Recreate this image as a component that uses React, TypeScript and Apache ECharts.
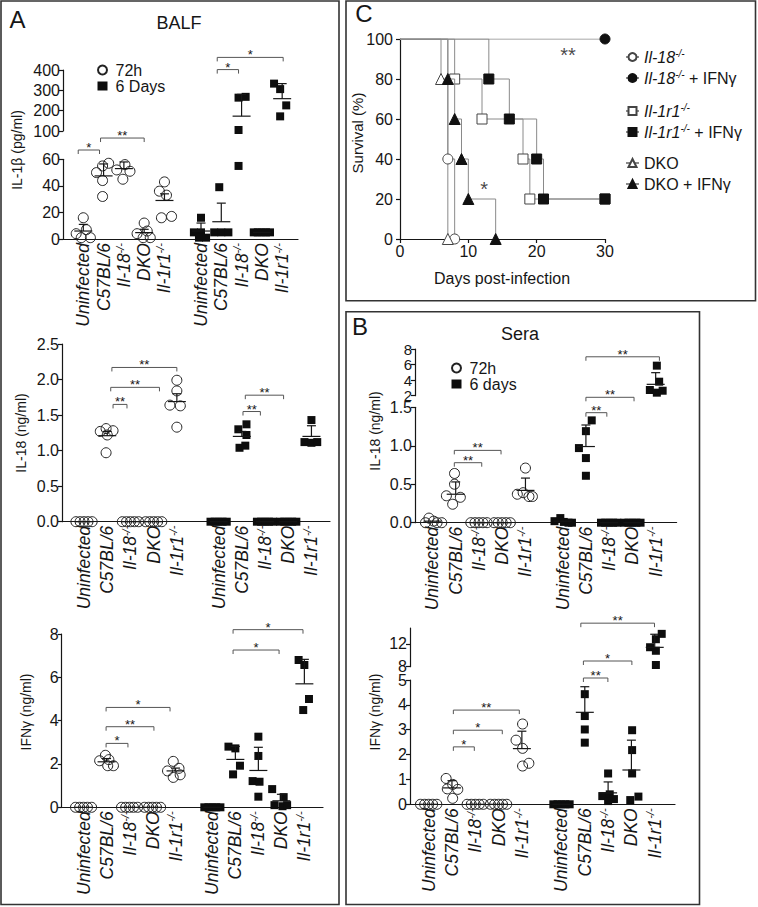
import React, { useEffect, useRef } from 'react';
import * as echarts from 'echarts';

const FONT = '"Liberation Sans", Arial, Helvetica, sans-serif';
const INK = '#161616';

// ---------- shared categories ----------
const groupNames = ['Uninfected', 'C57BL/6', 'Il-18', 'DKO', 'Il-1r1'];
const groupKO = [false, false, true, false, true];

// ---------- Panel A, BALF: IL-1β (pg/ml). Points are [x offset, value] ----------
const balfIl1b72h = [
  [[-0.35, 4], [0, 16], [0.15, 7], [0.35, 1], [-0.1, 1]],
  [[-0.35, 50], [-0.05, 55], [0.25, 57], [-0.05, 44], [-0.05, 32]],
  [[-0.35, 52], [0.05, 56], [0.3, 51], [-0.05, 45]],
  [[-0.35, 4], [0, 12], [0.15, 6], [0.3, 1], [-0.05, 1]],
  [[0, 43], [-0.25, 36], [0.1, 33], [-0.15, 16], [0.35, 17]],
];
const balfIl1b72hMean = [6, 47.5, 53, 4.8, 29];
const balfIl1b72hSem = [5, 9, 5, 2.5, 5];
const balfIl1b6d = [
  [[0, 16], [-0.35, 5], [0, 5], [0.25, 1], [-0.1, 1]],
  [[-0.1, 39], [-0.35, 5], [0, 5], [0.35, 5]],
  [[-0.15, 55], [-0.15, 105], [-0.15, 264], [0.2, 268]],
  [[-0.4, 5], [-0.2, 5], [0, 5], [0.2, 5], [0.4, 5]],
  [[-0.4, 333], [-0.1, 306], [0.2, 226], [-0.1, 172]],
];
const balfIl1b6dMean = [6, 13, 173, 5, 259];
const balfIl1b6dSem = [6, 14, 107, 0, 74];
// [x from, x to, level, number of stars]
const balfIl1bSig = [[0.75, 1.8, 67, 1], [1.85, 4.0, 76, 2], [7.6, 8.65, 402, 1], [7.6, 10.85, 462, 1]];

// ---------- Panel A, BALF: IL-18 (ng/ml) ----------
const balfIl18_72h = [
  [[-0.35, 0], [-0.17, 0], [0, 0], [0.17, 0], [0.35, 0]],
  [[-0.3, 1.27], [-0.05, 1.31], [0.25, 1.28], [0, 1.22], [-0.05, 0.97]],
  [[-0.35, 0], [-0.17, 0], [0, 0], [0.17, 0], [0.35, 0]],
  [[-0.35, 0], [-0.17, 0], [0, 0], [0.17, 0], [0.35, 0]],
  [[0, 1.99], [0, 1.84], [-0.3, 1.64], [0.15, 1.63], [0, 1.33]],
];
const balfIl18_72hMean = [0, 1.21, 0, 0, 1.69];
const balfIl18_72hSem = [0, 0.06, 0, 0, 0.11];
const balfIl18_6d = [
  [[-0.35, 0], [-0.17, 0], [0, 0], [0.17, 0], [0.35, 0]],
  [[-0.15, 1.3], [0.2, 1.37], [0.2, 1.22], [-0.1, 1.04], [0.15, 1.07]],
  [[-0.35, 0], [-0.17, 0], [0, 0], [0.17, 0], [0.35, 0]],
  [[-0.35, 0], [-0.17, 0], [0, 0], [0.17, 0], [0.35, 0]],
  [[0, 1.43], [-0.3, 1.12], [0, 1.11], [0.25, 1.12]],
];
const balfIl18_6dMean = [0, 1.2, 0, 0, 1.2];
const balfIl18_6dSem = [0, 0.07, 0, 0, 0.15];
const balfIl18Sig = [[2.2, 5.0, 2.17, 2], [2.15, 4.25, 1.89, 2], [2.25, 2.85, 1.65, 2], [7.95, 9.6, 1.78, 2], [7.85, 8.6, 1.55, 2]];

// ---------- Panel A, BALF: IFNγ (ng/ml) ----------
const balfIfn72h = [
  [[-0.35, 0], [-0.17, 0], [0, 0], [0.17, 0], [0.35, 0]],
  [[-0.3, 2.15], [-0.05, 2.4], [0.05, 1.92], [0.3, 1.92], [0.1, 2.2]],
  [[-0.35, 0], [-0.17, 0], [0, 0], [0.17, 0], [0.35, 0]],
  [[-0.35, 0], [-0.17, 0], [0, 0], [0.17, 0], [0.35, 0]],
  [[-0.1, 2.12], [-0.35, 1.68], [0.15, 1.8], [-0.1, 1.38], [0.2, 1.5]],
];
const balfIfn72hMean = [0, 2.1, 0, 0, 1.68];
const balfIfn72hSem = [0, 0.15, 0, 0, 0.13];
const balfIfn6d = [
  [[-0.35, 0], [-0.17, 0], [0, 0], [0.17, 0], [0.35, 0]],
  [[-0.3, 2.8], [0, 2.72], [0.2, 1.92], [-0.1, 1.52]],
  [[0, 3.26], [0, 2.37], [-0.25, 1.21], [0.05, 1.18], [0, 0.49]],
  [[-0.4, 0.84], [0.1, 0.47], [-0.3, 0.1], [0.05, 0.05], [0.25, 0.1]],
  [[-0.25, 6.8], [0, 6.57], [0.2, 5.0], [-0.05, 4.49]],
];
const balfIfn6dMean = [0, 2.21, 1.7, 0.3, 5.7];
const balfIfn6dSem = [0, 0.6, 1.07, 0.3, 1.13];
const balfIfnSig = [[1.98, 2.93, 2.95, 1], [1.98, 4.06, 3.72, 2], [1.98, 4.76, 4.61, 1], [7.5, 9.5, 7.26, 1], [7.5, 10.54, 8.2, 1]];

// ---------- Panel B, Sera: IL-18 (ng/ml) ----------
const seraIl18_72h = [
  [[-0.15, 0.06], [-0.3, 0], [0.05, 0.02], [0.2, 0], [0.4, 0]],
  [[-0.05, 0.64], [-0.05, 0.5], [-0.4, 0.35], [-0.13, 0.24], [0.2, 0.33]],
  [[-0.35, 0], [-0.17, 0], [0, 0], [0.17, 0], [0.35, 0]],
  [[-0.35, 0], [-0.17, 0], [0, 0], [0.17, 0], [0.35, 0]],
  [[0, 0.71], [-0.35, 0.37], [-0.1, 0.39], [0.15, 0.34], [0.3, 0.34]],
];
const seraIl18_72hMean = [0.02, 0.37, 0, 0, 0.42];
const seraIl18_72hSem = [0, 0.16, 0, 0, 0.16];
const seraIl18_6d = [
  [[-0.35, 0.02], [-0.1, 0.06], [0.05, 0.01], [0.25, 0], [0.4, 0]],
  [[0.25, 1.33], [0, 1.19], [-0.3, 0.97], [0, 0.84], [0, 0.61]],
  [[-0.35, 0], [-0.17, 0], [0, 0], [0.17, 0], [0.35, 0]],
  [[-0.35, 0], [-0.17, 0], [0, 0], [0.17, 0], [0.35, 0]],
  [[0.05, 5.86], [0.15, 3.8], [-0.25, 2.73], [0.05, 2.39], [0.3, 2.64]],
];
const seraIl18_6dMean = [0.02, 0.99, 0, 0, 3.46];
const seraIl18_6dSem = [0, 0.28, 0, 0, 1.5];
const seraIl18Sig = [[1.94, 3.12, 0.78, 2], [1.94, 3.95, 0.94, 2], [7.6, 8.5, 1.43, 2], [7.6, 9.67, 1.63, 2], [7.6, 10.76, 7.0, 2]];

// ---------- Panel B, Sera: IFNγ (ng/ml) ----------
const seraIfn72h = [
  [[-0.35, 0], [-0.17, 0], [0, 0], [0.17, 0], [0.35, 0]],
  [[-0.25, 1.04], [0.03, 0.8], [-0.2, 0.62], [0.25, 0.6], [0.03, 0.24]],
  [[-0.35, 0], [-0.17, 0], [0, 0], [0.17, 0], [0.35, 0]],
  [[-0.35, 0], [-0.17, 0], [0, 0], [0.17, 0], [0.35, 0]],
  [[0.03, 3.23], [-0.25, 2.58], [0.03, 2.25], [0.3, 1.65], [0.03, 1.54]],
];
const seraIfn72hMean = [0, 0.66, 0, 0, 2.24];
const seraIfn72hSem = [0, 0.29, 0, 0, 0.7];
const seraIfn6d = [
  [[-0.35, 0], [-0.17, 0], [0, 0], [0.17, 0], [0.35, 0]],
  [[0, 4.43], [0, 3.55], [0, 3.01], [0, 2.48]],
  [[0, 1.24], [-0.25, 0.33], [0.07, 0.4], [0.25, 0.21], [0, 0.13]],
  [[0.03, 2.98], [0.03, 2.18], [0.03, 1.24], [-0.05, 0.17], [0.3, 0.31]],
  [[0.05, 12.83], [0.3, 13.77], [-0.2, 11.42], [0.05, 10.8], [0.05, 8.3]],
];
const seraIfn6dMean = [0, 3.7, 0.46, 1.38, 11.4];
const seraIfn6dSem = [0, 1.03, 0.44, 1.2, 2.3];
const seraIfnSig = [[2.06, 2.96, 2.31, 1], [2.06, 4.16, 2.98, 1], [2.06, 4.89, 3.79, 2], [7.64, 8.69, 5.08, 2], [7.64, 9.72, 9.0, 1], [7.53, 10.69, 15.65, 2]];

// ---------- Panel C, survival (day, % survival) ----------
const survNames = ['Il-18-/-', 'Il-18-/- + IFNγ', 'Il-1r1-/-', 'Il-1r1-/- + IFNγ', 'DKO', 'DKO + IFNγ'];
const survIl18 = [[0, 100], [7, 40], [8, 0]];
const survIl18Ifn = [[0, 100], [30, 100]];
const survIl1r1 = [[0, 100], [8, 80], [12, 60], [18, 40], [19, 20], [30, 20]];
const survIl1r1Ifn = [[0, 100], [13, 80], [16, 60], [20, 40], [21, 20], [30, 20]];
const survDko = [[0, 100], [6, 80], [7, 0]];
const survDkoIfn = [[0, 100], [7, 80], [8, 60], [9, 40], [10, 20], [14, 0]];
const survSig = [[24.6, 92, 2], [12.3, 25, 1]];
const survXTicks = [0, 10, 20, 30];
const survYTicks = [0, 20, 40, 60, 80, 100];

// ---------- helpers ----------
type Seg = { min: number; max: number; interval: number; top: number; height: number; dec?: number; ticks?: number[]; fs?: number };
type Panel = {
  left: number; width: number; xMin: number; xMax: number; pos: number[]; segs: Seg[];
  early: number[][][]; late: number[][][];
  earlyMean: number[]; earlySem: number[]; lateMean: number[]; lateSem: number[];
  sig: number[][]; earlyName: string; lateName: string;
};

const rich = (fs: number) => ({
  i: { fontStyle: 'italic', fontSize: fs, fontFamily: FONT, color: INK, lineHeight: fs + 2 },
  s: { fontStyle: 'italic', fontSize: Math.round(fs * 0.65), fontFamily: FONT, color: INK, verticalAlign: 'top', lineHeight: Math.round(fs * 0.65) },
  n: { fontSize: fs, fontFamily: FONT, color: INK, lineHeight: fs + 2 },
});

const catLabel = (pos: number[], v: number) => {
  const k = pos.findIndex((q) => Math.abs(q - v) < 1e-6);
  if (k < 0) return '';
  const g = k % 5;
  return groupKO[g] ? `{i|${groupNames[g]}}{s|-/-}` : `{i|${groupNames[g]}}`;
};

const survLabel: Record<string, string> = {
  'Il-18-/-': '{i|Il-18}{s|-/-}',
  'Il-18-/- + IFNγ': '{i|Il-18}{s|-/-}{n| + IFNγ}',
  'Il-1r1-/-': '{i|Il-1r1}{s|-/-}',
  'Il-1r1-/- + IFNγ': '{i|Il-1r1}{s|-/-}{n| + IFNγ}',
  DKO: '{n|DKO}',
  'DKO + IFNγ': '{n|DKO + IFNγ}',
};

const segIndex = (segs: Seg[], v: number) => {
  let best = 0;
  let bestD = Infinity;
  segs.forEach((s, i) => {
    const d = v < s.min ? s.min - v : v > s.max ? v - s.max : 0;
    if (d < bestD) { bestD = d; best = i; }
  });
  return best;
};

const AXIS_LINE = { color: INK, width: 1.2 };

const renderErrorBar = (params: any, api: any) => {
  const x = api.value(0);
  const m = api.value(1);
  const s = api.value(2);
  const p = api.coord([x, m]);
  const q = api.coord([x, m + s]);
  const st = { stroke: INK, lineWidth: 1.2, fill: 'none' };
  const children: any[] = [{ type: 'line', shape: { x1: p[0] - 9, y1: p[1], x2: p[0] + 9, y2: p[1] }, style: st }];
  if (s > 0) {
    children.push({ type: 'line', shape: { x1: p[0], y1: p[1], x2: p[0], y2: q[1] }, style: st });
    children.push({ type: 'line', shape: { x1: q[0] - 4.5, y1: q[1], x2: q[0] + 4.5, y2: q[1] }, style: st });
  }
  return { type: 'group', children };
};

const renderBracket = (params: any, api: any) => {
  const a = api.coord([api.value(0), api.value(2)]);
  const b = api.coord([api.value(1), api.value(2)]);
  const n = api.value(3);
  return {
    type: 'group',
    children: [
      { type: 'polyline', shape: { points: [[a[0], a[1] + 4], [a[0], a[1]], [b[0], b[1]], [b[0], b[1] + 4]] }, style: { stroke: '#555', lineWidth: 1, fill: 'none' } },
      { type: 'text', x: (a[0] + b[0]) / 2, y: a[1] + 4, style: { text: n === 2 ? '**' : '*', fontSize: 13, fontFamily: FONT, fill: INK, align: 'center', verticalAlign: 'bottom' } },
    ],
  };
};

const posA1 = [1, 2, 3, 4, 5, 6.8, 7.8, 8.8, 9.8, 10.8];
const posA2 = [1, 2, 3, 4, 5, 6.8, 7.8, 8.8, 9.8, 10.8];
const posA3 = [1, 2, 3, 4, 5, 6.6, 7.6, 8.6, 9.6, 10.6];
const posB1 = [1, 2, 3, 4, 5, 6.6, 7.6, 8.6, 9.6, 10.6];
const posB2 = [1, 2, 3, 4, 5, 6.7, 7.7, 8.7, 9.7, 10.7];

const panels: Panel[] = [
  {
    left: 63, width: 235, xMin: 0, xMax: 11.58, pos: posA1,
    segs: [
      { min: 0, max: 60, interval: 20, top: 159.3, height: 79.7 },
      { min: 100, max: 400, interval: 100, top: 70, height: 61 },
    ],
    early: balfIl1b72h, late: balfIl1b6d, earlyMean: balfIl1b72hMean, earlySem: balfIl1b72hSem,
    lateMean: balfIl1b6dMean, lateSem: balfIl1b6dSem, sig: balfIl1bSig, earlyName: '72h', lateName: '6 Days',
  },
  {
    left: 62, width: 268, xMin: 0.05, xMax: 11.6, pos: posA2,
    segs: [{ min: 0, max: 2.5, interval: 0.5, top: 344, height: 177.7, dec: 1 }],
    early: balfIl18_72h, late: balfIl18_6d, earlyMean: balfIl18_72hMean, earlySem: balfIl18_72hSem,
    lateMean: balfIl18_6dMean, lateSem: balfIl18_6dSem, sig: balfIl18Sig, earlyName: '72h', lateName: '6 Days',
  },
  {
    left: 61.7, width: 261.3, xMin: 0.05, xMax: 11.41, pos: posA3,
    segs: [{ min: 0, max: 8, interval: 2, top: 634, height: 173.3 }],
    early: balfIfn72h, late: balfIfn6d, earlyMean: balfIfn72hMean, earlySem: balfIfn72hSem,
    lateMean: balfIfn6dMean, lateSem: balfIfn6dSem, sig: balfIfnSig, earlyName: '72h', lateName: '6 Days',
  },
  {
    left: 415, width: 261.6, xMin: 0.25, xMax: 11.5, pos: posB1,
    segs: [
      { min: 0, max: 1.5, interval: 0.5, top: 407.3, height: 115.4, dec: 1 },
      { min: 2, max: 8, interval: 2, top: 349, height: 46.7, fs: 15 },
    ],
    early: seraIl18_72h, late: seraIl18_6d, earlyMean: seraIl18_72hMean, earlySem: seraIl18_72hSem,
    lateMean: seraIl18_6dMean, lateSem: seraIl18_6dSem, sig: seraIl18Sig, earlyName: '72h', lateName: '6 days',
  },
  {
    left: 410, width: 265, xMin: 0.2, xMax: 11.57, pos: posB2,
    segs: [
      { min: 0, max: 5, interval: 1, top: 680, height: 124.3 },
      { min: 8, max: 14.8, interval: 4, top: 628, height: 38.7, ticks: [8, 12] },
    ],
    early: seraIfn72h, late: seraIfn6d, earlyMean: seraIfn72hMean, earlySem: seraIfn72hSem,
    lateMean: seraIfn6dMean, lateSem: seraIfn6dSem, sig: seraIfnSig, earlyName: '72h', lateName: '6 days',
  },
];

function buildOption() {
  const grid: any[] = [];
  const xAxis: any[] = [];
  const yAxis: any[] = [];
  const series: any[] = [];

  const addPanel = (p: Panel) => {
    const base = grid.length;
    p.segs.forEach((s, i) => {
      grid.push({ left: p.left, width: p.width, top: s.top, height: s.height });
      xAxis.push({
        type: 'value', gridIndex: base + i, min: p.xMin, max: p.xMax, show: i === 0,
        axisLine: { show: true, onZero: false, lineStyle: AXIS_LINE },
        axisTick: { show: false }, splitLine: { show: false },
        axisLabel: i === 0
          ? { show: true, hideOverlap: false, customValues: p.pos, rotate: 90, margin: 4, formatter: (v: number) => catLabel(p.pos, v), rich: rich(17.5) }
          : { show: false },
      });
      yAxis.push({
        type: 'value', gridIndex: base + i, min: s.min, max: s.max, interval: s.interval,
        axisLine: { show: true, onZero: false, lineStyle: AXIS_LINE },
        axisTick: { show: true, length: 4, lineStyle: AXIS_LINE, ...(s.ticks ? { customValues: s.ticks } : {}) },
        axisLabel: {
          fontSize: s.fs ?? 16, lineHeight: s.fs ?? 16, color: INK, margin: 3, fontFamily: FONT,
          showMinLabel: true, showMaxLabel: true, hideOverlap: false,
          ...(s.ticks ? { customValues: s.ticks } : {}),
          formatter: (v: number) => v.toFixed(s.dec ?? 0),
        },
        splitLine: { show: false },
      });
    });
    const groups = [
      { data: p.early, mean: p.earlyMean, sem: p.earlySem, off: 0, name: p.earlyName, late: false },
      { data: p.late, mean: p.lateMean, sem: p.lateSem, off: 5, name: p.lateName, late: true },
    ];
    p.segs.forEach((s, i) => {
      const gi = base + i;
      groups.forEach((g) => {
        const pts: number[][] = [];
        g.data.forEach((grp, k) => grp.forEach(([dx, v]) => {
          if (segIndex(p.segs, v) === i) pts.push([p.pos[g.off + k] + dx, v]);
        }));
        series.push({
          type: 'scatter', name: g.name, xAxisIndex: gi, yAxisIndex: gi, data: pts, z: 4, silent: true,
          symbol: g.late ? 'rect' : 'circle', symbolSize: g.late ? 8 : 10,
          itemStyle: g.late
            ? { color: '#0d0d0d', borderWidth: 0, opacity: 1 }
            : { color: 'rgba(255,255,255,0)', borderColor: '#222', borderWidth: 1, opacity: 1 },
        });
        const bars: number[][] = [];
        g.mean.forEach((m, k) => {
          if (segIndex(p.segs, m) === i) bars.push([p.pos[g.off + k], m, g.sem[k]]);
        });
        series.push({
          type: 'custom', xAxisIndex: gi, yAxisIndex: gi, data: bars, renderItem: renderErrorBar,
          encode: { x: 0, y: 1 }, clip: false, z: 5, silent: true,
        });
      });
      const br = p.sig.filter((b) => segIndex(p.segs, b[2]) === i);
      series.push({
        type: 'custom', xAxisIndex: gi, yAxisIndex: gi, data: br, renderItem: renderBracket,
        encode: { x: [0, 1], y: 2 }, clip: false, z: 5, silent: true,
      });
    });
  };
  panels.forEach(addPanel);

  // survival panel
  const sg = grid.length;
  grid.push({ left: 400, top: 39, width: 205, height: 200 });
  xAxis.push({
    type: 'value', gridIndex: sg, min: 0, max: 30, interval: 10,
    axisLine: { show: true, onZero: false, lineStyle: AXIS_LINE },
    axisTick: { show: true, length: 4, lineStyle: AXIS_LINE, customValues: survXTicks },
    axisLabel: { fontSize: 16, color: INK, margin: 4, fontFamily: FONT, customValues: survXTicks, hideOverlap: false },
    splitLine: { show: false },
  });
  yAxis.push({
    type: 'value', gridIndex: sg, min: 0, max: 100, interval: 20,
    axisLine: { show: true, onZero: false, lineStyle: AXIS_LINE },
    axisTick: { show: true, length: 4, lineStyle: AXIS_LINE, customValues: survYTicks },
    axisLabel: { fontSize: 16, color: INK, margin: 7, fontFamily: FONT, customValues: survYTicks, hideOverlap: false },
    splitLine: { show: false },
  });
  const survData = [survIl18, survIl18Ifn, survIl1r1, survIl1r1Ifn, survDko, survDkoIfn];
  const survSymbols = ['circle', 'circle', 'rect', 'rect', 'triangle', 'triangle'];
  const survFilled = [false, true, false, true, false, true];
  survData.forEach((d, k) => {
    series.push({
      type: 'line', name: survNames[k], xAxisIndex: sg, yAxisIndex: sg, step: 'end',
      data: d.map((pt, j) => (j === 0 ? { value: pt, symbol: 'none' } : { value: pt })),
      symbol: survSymbols[k], symbolSize: survSymbols[k] === 'triangle' ? 11 : 10, showAllSymbol: true,
      lineStyle: { color: '#8a8a8a', width: 1 },
      itemStyle: survFilled[k] ? { color: '#111', borderColor: '#111', borderWidth: 1 } : { color: '#fff', borderColor: '#444', borderWidth: 1 },
      z: survFilled[k] ? 6 : 5, silent: true,
    });
  });
  series.push({
    type: 'scatter', xAxisIndex: sg, yAxisIndex: sg, data: survSig, symbolSize: 0, silent: true,
    label: { show: true, position: 'inside', formatter: (p: any) => (p.value[2] === 2 ? '**' : '*'), fontSize: 20, color: INK, fontFamily: FONT },
  });

  const legendBase = { orient: 'vertical', selectedMode: false, itemGap: 0 };
  const survLegend = (names: string[], top: number) => ({
    ...legendBase, left: 620, top, itemGap: 3, itemWidth: 13, itemHeight: 10, data: names,
    formatter: (n: string) => survLabel[n],
    textStyle: { fontSize: 16, lineHeight: 17, color: INK, fontFamily: FONT, rich: rich(16) },
  });
  const dotLegend = (names: string[], left: number, top: number) => ({
    ...legendBase, left, top, itemWidth: 10, itemHeight: 9, data: names,
    textStyle: { fontSize: 16, lineHeight: 16, color: INK, fontFamily: FONT, padding: [0, 0, 0, 3] },
  });

  const t = (text: string, x: number, y: number, fontSize: number, rot = 0) => ({
    type: 'text', x, y, rotation: rot,
    style: { text, fontSize, fontFamily: FONT, fill: INK, align: 'center', verticalAlign: 'middle' },
  });
  const frame = (x: number, y: number, w: number, h: number) => ({
    type: 'rect', shape: { x, y, width: w, height: h }, style: { fill: 'none', stroke: '#333', lineWidth: 1.6 },
  });

  return {
    animation: false,
    backgroundColor: '#fff',
    textStyle: { fontFamily: FONT },
    grid, xAxis, yAxis, series,
    legend: [
      dotLegend(['72h', '6 Days'], 92, 57),
      dotLegend(['72h', '6 days'], 446, 355),
      survLegend([survNames[0], survNames[1]], 43),
      survLegend([survNames[2], survNames[3]], 97),
      survLegend([survNames[4], survNames[5]], 149),
    ],
    graphic: {
      elements: [
        frame(1, 1, 338, 903.5),
        frame(346, 1, 409.5, 299.7),
        frame(346, 311.7, 353.5, 592.8),
        t('A', 17.5, 19, 24),
        t('BALF', 179, 23, 18),
        t('C', 364, 13, 24),
        t('B', 360, 326, 24),
        t('Sera', 520, 334, 18),
        t('IL-1β (pg/ml)', 17, 150, 14, Math.PI / 2),
        t('IL-18 (ng/ml)', 21, 433, 14, Math.PI / 2),
        t('IFNγ (ng/ml)', 26, 712, 14, Math.PI / 2),
        t('IL-18 (ng/ml)', 375, 431, 14, Math.PI / 2),
        t('IFNγ (ng/ml)', 375, 712, 14, Math.PI / 2),
        t('Survival (%)', 357, 133, 15, Math.PI / 2),
        t('Days post-infection', 502, 278, 16),
      ],
    },
  };
}

export default function App() {
  const ref = useRef<HTMLDivElement>(null);
  useEffect(() => {
    if (!ref.current) return undefined;
    const chart = echarts.init(ref.current, undefined, { renderer: 'svg' });
    chart.setOption(buildOption() as any);
    return () => chart.dispose();
  }, []);
  return (
    <div
      ref={ref}
      style={{ position: 'absolute', left: 0, top: 0, width: 758, height: 907, background: '#fff' }}
    />
  );
}
